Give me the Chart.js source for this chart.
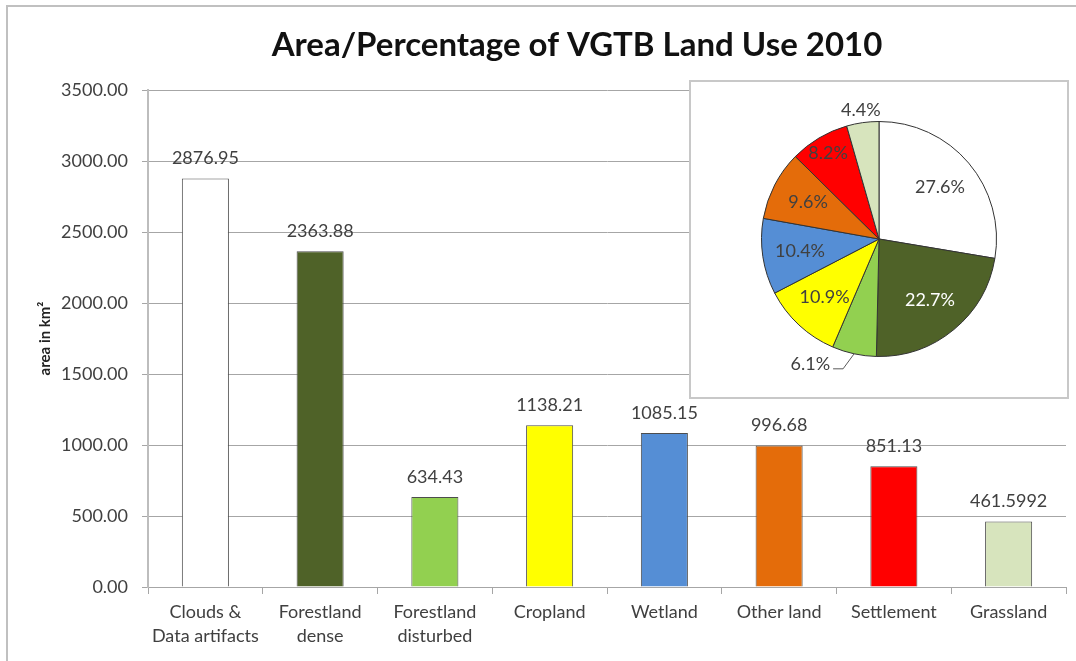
<!DOCTYPE html>
<html>
<head>
<meta charset="utf-8">
<script src="https://cdn.jsdelivr.net/npm/chart.js@4"></script>
<style>
  body { margin: 0; background: #fff; }
  #wrap { position: relative; width: 1076px; height: 661px; overflow: hidden; }
  #frame { position: absolute; left: 6px; top: 5px; width: 1200px; height: 800px;
           border-left: 2px solid #c0c0c0; border-top: 2px solid #c0c0c0; }
  #bar { position: absolute; left: 0; top: 0; }
  #inset { position: absolute; left: 689px; top: 80px; width: 376px; height: 315px;
           border: 2px solid #c8c8c8; background: #fff; }
</style>
</head>
<body>
<div id="wrap">
  <div id="frame"></div>
  <canvas id="bar" width="1076" height="661"></canvas>
  <div id="inset"><canvas id="pie" width="376" height="315"></canvas></div>
</div>
<script>
// data
const chartTitle = 'Area/Percentage of VGTB Land Use 2010';
const categories = [['Clouds &', 'Data artifacts'], ['Forestland', 'dense'], ['Forestland', 'disturbed'],
  'Cropland', 'Wetland', 'Other land', 'Settlement', 'Grassland'];
const areas = [2876.95, 2363.88, 634.43, 1138.21, 1085.15, 996.68, 851.13, 461.5992];
const colors = ['#ffffff', '#4f6228', '#92d050', '#ffff00', '#558ed5', '#e46c0a', '#ff0000', '#d7e4bd'];
const yMin = 0, yMax = 3500, yStep = 500;
const yTitle = 'area in km\u00B2';

const total = areas.reduce((a, b) => a + b, 0);
const FONT = 'Lato, "Open Sans", sans-serif';
const TEXT = '#404040';

// Titel oben, etwas rechts von der Mitte wie im Original
const titlePlugin = {
  id: 'chartTitle',
  afterDraw(chart) {
    const ctx = chart.ctx;
    ctx.save();
    ctx.font = 'bold 33px ' + FONT;
    ctx.fillStyle = '#111';
    ctx.textAlign = 'center';
    ctx.textBaseline = 'middle';
    ctx.fillText(chartTitle, 577, 45);
    ctx.restore();
  }
};

// Werte über den Balken
const barLabels = {
  id: 'barLabels',
  afterDatasetsDraw(chart) {
    const ctx = chart.ctx;
    const meta = chart.getDatasetMeta(0);
    ctx.save();
    ctx.font = '18px ' + FONT;
    ctx.fillStyle = TEXT;
    ctx.textAlign = 'center';
    ctx.textBaseline = 'middle';
    meta.data.forEach(function(bar, i) {
      ctx.fillText(String(areas[i]), bar.x, bar.y - 20);
    });
    ctx.restore();
  }
};

// relative Helligkeit, dunkle Flächen bekommen weiße Schrift
function isDark(hex) {
  const lin = function(v) { v = v / 255; return v <= 0.03928 ? v / 12.92 : Math.pow((v + 0.055) / 1.055, 2.4); };
  const r = lin(parseInt(hex.substr(1, 2), 16)), g = lin(parseInt(hex.substr(3, 2), 16)), b = lin(parseInt(hex.substr(5, 2), 16));
  return (0.2126 * r + 0.7152 * g + 0.0722 * b) < 0.15;
}

// Prozentwerte im Kreisdiagramm
const pieLabels = {
  id: 'pieLabels',
  afterDatasetsDraw(chart) {
    const ctx = chart.ctx;
    const meta = chart.getDatasetMeta(0);
    ctx.save();
    ctx.font = '18px ' + FONT;
    ctx.textBaseline = 'middle';
    meta.data.forEach(function(arc, i) {
      const pct = areas[i] / total * 100;
      const txt = pct.toFixed(1) + '%';
      const mid = (arc.startAngle + arc.endAngle) / 2;
      const r = arc.outerRadius;
      const c = Math.cos(mid), s = Math.sin(mid);
      ctx.fillStyle = isDark(colors[i]) ? '#ffffff' : TEXT;
      if (pct < 7) {
        ctx.fillStyle = TEXT;
        if (s > 0) {
          // unten: mit Führungslinie
          const px = arc.x + c * r, py = arc.y + s * r;
          const ex = px - 11, ey = py + 15;
          ctx.strokeStyle = '#595959';
          ctx.lineWidth = 1;
          ctx.beginPath();
          ctx.moveTo(px, py);
          ctx.lineTo(ex, ey);
          ctx.lineTo(ex - 10, ey);
          ctx.stroke();
          ctx.textAlign = 'right';
          ctx.fillText(txt, ex - 13, ey - 5);
        } else {
          ctx.textAlign = 'center';
          ctx.fillText(txt, arc.x + c * r * 1.11, arc.y + s * r * 1.11);
        }
      } else {
        const f = pct < 9 ? 0.85 : 0.68;
        ctx.textAlign = 'center';
        ctx.fillText(txt, arc.x + c * r * f, arc.y + s * r * f);
      }
    });
    ctx.restore();
  }
};

new Chart(document.getElementById('bar').getContext('2d'), {
  type: 'bar',
  data: {
    labels: categories,
    datasets: [{
      data: areas,
      backgroundColor: colors,
      borderColor: '#4d4d4d',
      borderWidth: 1,
      barPercentage: 0.41,
      categoryPercentage: 1
    }]
  },
  options: {
    responsive: false,
    animation: false,
    layout: { padding: { top: 90, right: 10, left: 0, bottom: 0 } },
    plugins: { legend: { display: false }, tooltip: { enabled: false }, title: { display: false } },
    scales: {
      x: {
        afterFit: function(scale) { scale.height = 74; },
        grid: { display: true, drawOnChartArea: false, offset: true, color: '#a6a6a6', tickLength: 7 },
        border: { color: '#a6a6a6', width: 1 },
        ticks: { color: TEXT, padding: 6, maxRotation: 0, autoSkip: false,
                 font: { family: FONT, size: 18, lineHeight: 1.33 } }
      },
      y: {
        min: yMin,
        max: yMax,
        afterFit: function(scale) { scale.width = 148; },
        grid: { color: '#a6a6a6', tickLength: 6 },
        border: { color: '#bdbdbd', width: 2 },
        ticks: { stepSize: yStep, padding: 14, color: TEXT,
                 font: { family: FONT, size: 18 },
                 callback: function(v) { return Number(v).toFixed(2); } },
        title: { display: true, text: yTitle, color: '#222',
                 padding: { top: 36, bottom: 0 },
                 font: { family: FONT, size: 15, weight: 'bold' } }
      }
    }
  },
  plugins: [barLabels, titlePlugin]
});

new Chart(document.getElementById('pie').getContext('2d'), {
  type: 'pie',
  data: {
    labels: categories.map(function(c) { return Array.isArray(c) ? c.join(' ') : c; }),
    datasets: [{
      data: areas,
      backgroundColor: colors,
      borderColor: '#333333',
      borderWidth: 1
    }]
  },
  options: {
    responsive: false,
    animation: false,
    layout: { padding: { top: 39, bottom: 40, left: 70, right: 70 } },
    plugins: { legend: { display: false }, tooltip: { enabled: false } }
  },
  plugins: [pieLabels]
});
</script>
</body>
</html>
